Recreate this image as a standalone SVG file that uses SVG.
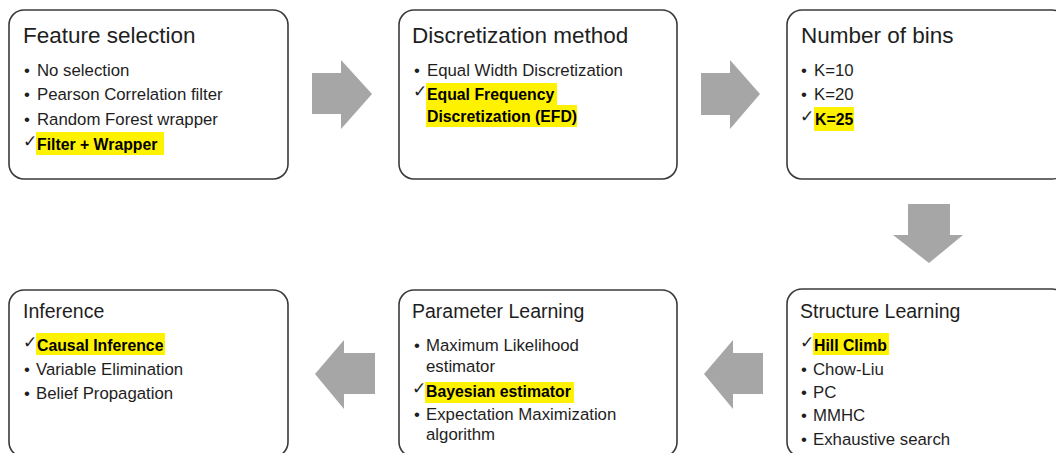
<svg xmlns="http://www.w3.org/2000/svg" width="1056" height="453" viewBox="0 0 1056 453">
<style>
.box{fill:#fff;stroke:#3a3a3a;stroke-width:1.6}
.t1{font-family:"Liberation Sans",Arial,sans-serif;font-size:22.5px;fill:#1e1e1e}
.t2{font-family:"Liberation Sans",Arial,sans-serif;font-size:19.5px;fill:#1e1e1e}
.it{font-family:"Liberation Sans",Arial,sans-serif;font-size:16.8px;fill:#1e1e1e}
.bd{font-family:"Liberation Sans",Arial,sans-serif;font-size:15.8px;font-weight:bold;fill:#000}
.ck{font-family:"DejaVu Sans",sans-serif;font-size:17px;fill:#1e1e1e}
.hl{fill:#fff200}
.arr{fill:#a6a6a6}
</style>
<rect width="1056" height="453" fill="#fff"/>
<g id="connectors">
<polygon class="arr" points="312,73 341,73 341,60 372,94 341,129 341,114 312,114"/>
<polygon class="arr" points="701,73 730,73 730,60 760,94 730,129 730,115 701,115"/>
<polygon class="arr" points="908,204 950,204 950,235 963,235 929,263 893,235 908,235"/>
<polygon class="arr" points="763,353 733,353 733,340 704,374 733,409 733,394 763,394"/>
<polygon class="arr" points="375,353 344,353 344,340 315,374 344,409 344,394 375,394"/>
</g>
<g id="feature-selection">
<rect class="box" x="9" y="10" width="279" height="169" rx="15"/>
<text class="t1" x="23" y="43">Feature selection</text>
<text class="it" x="24" y="76">•</text><text class="it" x="37" y="76">No selection</text>
<text class="it" x="24" y="100">•</text><text class="it" x="37" y="100">Pearson Correlation filter</text>
<text class="it" x="24" y="125">•</text><text class="it" x="37" y="125">Random Forest wrapper</text>
<rect class="hl" x="36" y="132" width="128" height="23"/>
<text class="ck" x="23" y="147">✓</text><text class="bd" x="37" y="150">Filter + Wrapper</text>
</g>
<g id="discretization-method">
<rect class="box" x="399" y="10" width="278" height="169" rx="15"/>
<text class="t1" x="412" y="43">Discretization method</text>
<text class="it" x="414" y="76">•</text><text class="it" x="427" y="76">Equal Width Discretization</text>
<rect class="hl" x="426" y="83" width="131" height="22"/>
<rect class="hl" x="426" y="105" width="151" height="22"/>
<text class="ck" x="413" y="97">✓</text>
<text class="bd" x="427" y="100">Equal Frequency</text>
<text class="bd" x="427" y="122">Discretization (EFD)</text>
</g>
<g id="number-of-bins">
<rect class="box" x="787" y="10" width="280" height="169" rx="15"/>
<text class="t1" x="801" y="43">Number of bins</text>
<text class="it" x="801" y="76">•</text><text class="it" x="814" y="76">K=10</text>
<text class="it" x="801" y="100">•</text><text class="it" x="814" y="100">K=20</text>
<rect class="hl" x="814" y="107" width="40" height="24"/>
<text class="ck" x="800" y="122">✓</text><text class="bd" x="815" y="125">K=25</text>
</g>
<g id="structure-learning">
<rect class="box" x="787" y="289" width="280" height="168" rx="15"/>
<text class="t2" x="800" y="318">Structure Learning</text>
<rect class="hl" x="813" y="333" width="76" height="22"/>
<text class="ck" x="800" y="348">✓</text><text class="bd" x="814" y="351">Hill Climb</text>
<text class="it" x="801" y="375">•</text><text class="it" x="813" y="375">Chow-Liu</text>
<text class="it" x="801" y="398">•</text><text class="it" x="813" y="398">PC</text>
<text class="it" x="801" y="421">•</text><text class="it" x="813" y="421">MMHC</text>
<text class="it" x="801" y="445">•</text><text class="it" x="813" y="445">Exhaustive search</text>
</g>
<g id="parameter-learning">
<rect class="box" x="399" y="290" width="278" height="167" rx="15"/>
<text class="t2" x="412" y="318">Parameter Learning</text>
<text class="it" x="414" y="351">•</text><text class="it" x="426" y="351">Maximum Likelihood</text>
<text class="it" x="426" y="372">estimator</text>
<rect class="hl" x="425" y="382" width="149" height="21"/>
<text class="ck" x="412" y="394">✓</text><text class="bd" x="426" y="397">Bayesian estimator</text>
<text class="it" x="414" y="420">•</text><text class="it" x="426" y="420">Expectation Maximization</text>
<text class="it" x="426" y="440">algorithm</text>
</g>
<g id="inference">
<rect class="box" x="9" y="290" width="279" height="167" rx="15"/>
<text class="t2" x="23" y="318">Inference</text>
<rect class="hl" x="36" y="333" width="129" height="22"/>
<text class="ck" x="23" y="348">✓</text><text class="bd" x="37" y="351">Causal Inference</text>
<text class="it" x="24" y="375">•</text><text class="it" x="36" y="375">Variable Elimination</text>
<text class="it" x="24" y="399">•</text><text class="it" x="36" y="399">Belief Propagation</text>
</g>
</svg>
